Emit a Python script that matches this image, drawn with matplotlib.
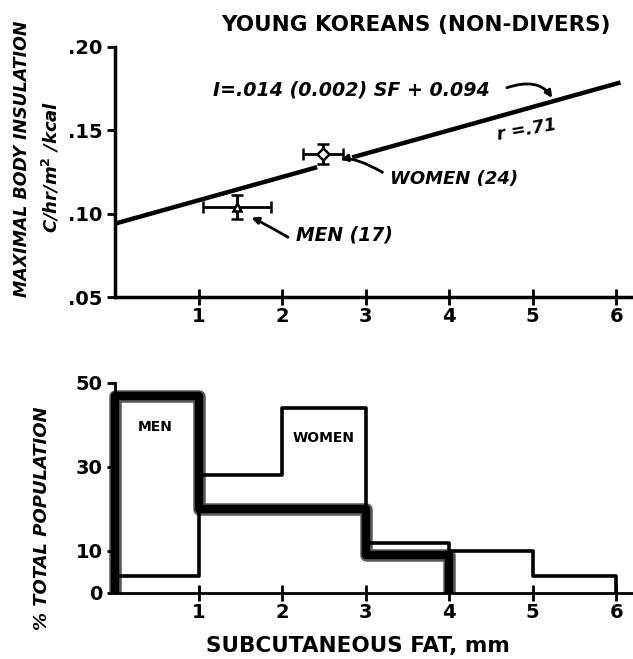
import matplotlib.pyplot as plt
import numpy as np

# regression: I = 0.014 SF + 0.094
slope = 0.014
intercept = 0.094
line_breaks = [(0.0, 2.42), (2.84, 6.05)]

# group means with error bars (SF in mm, insulation)
groups = ['WOMEN (24)', 'MEN (17)']
sf_mean = [2.49, 1.46]
sf_err = [0.24, 0.41]
ins_mean = [0.136, 0.104]
ins_err = [0.006, 0.007]
markers = ['D', '^']

# histograms of subcutaneous fat, % of total population
bin_edges_men = [0, 1, 2, 3, 4]
men_pct = [47, 20, 20, 9]
bin_edges_women = [0, 1, 2, 3, 4, 5, 6]
women_pct = [4, 28, 44, 12, 10, 4]

top_yticks = [0.05, 0.10, 0.15, 0.20]
top_ylabels = ['.05', '.10', '.15', '.20']
xticks = [1, 2, 3, 4, 5, 6]
bot_yticks = [0, 10, 30, 50]

plt.rcParams['font.family'] = ['DejaVu Sans']
fig = plt.figure(figsize=(6.33, 6.59), dpi=100)
W, H = 633, 659

def place(left, top, bottom, right=633):
    return [left / W, (H - bottom) / H, (right - left) / W, (bottom - top) / H]

ax1 = fig.add_axes(place(115, 38.6, 297))
ax2 = fig.add_axes(place(115, 378.8, 593))

for ax in (ax1, ax2):
    ax.set_facecolor('none')
    for s in ('top', 'right'):
        ax.spines[s].set_visible(False)
    ax.set_xlim(0, 6.2)
    ax.set_xticks(xticks)
    ax.set_xticklabels([str(t) for t in xticks], fontsize=14, fontweight='bold')
    ax.tick_params(axis='x', direction='inout', length=11, width=2, pad=2)
    ax.tick_params(axis='y', direction='out', length=6, width=2, pad=3)

# ---- top panel ----
ax1.set_ylim(0.05, 0.205)
ax1.spines['left'].set_bounds(0.05, 0.20)
ax1.spines['left'].set_linewidth(2.5)
ax1.spines['bottom'].set_linewidth(2.5)
ax1.set_yticks(top_yticks)
ax1.set_yticklabels(top_ylabels, fontsize=14, fontweight='bold')

for x0, x1 in line_breaks:
    xs = np.array([x0, x1])
    ax1.plot(xs, slope * xs + intercept, color='black', lw=3.2,
             solid_capstyle='butt', clip_on=False)

for xm, xe, ym, ye, mk in zip(sf_mean, sf_err, ins_mean, ins_err, markers):
    ax1.errorbar(xm, ym, xerr=xe, yerr=ye, fmt=mk, ms=6, mfc='white',
                 mec='black', mew=1.8, ecolor='black', elinewidth=2,
                 capsize=4, capthick=2)

fig.text(416 / W, 1 - 25 / H, 'YOUNG KOREANS (NON-DIVERS)',
         ha='center', va='center', fontsize=15.5, fontweight='bold')
ax1.text(1.17, 0.174, 'I=.014 (0.002) SF + 0.094', fontsize=13.7,
         fontstyle='italic', fontweight='semibold', ha='left', va='center')
ax1.annotate('', xy=(5.25, 0.168), xytext=(4.66, 0.175),
             arrowprops=dict(arrowstyle='-|>', lw=2, color='black',
                             connectionstyle='angle3,angleA=20,angleB=-60'))
ax1.text(4.55, 0.150, 'r =.71', fontsize=12.5, fontstyle='italic',
         fontweight='semibold', ha='left', va='center', rotation=10)
ax1.text(3.29, 0.121, groups[0], fontsize=13, fontweight='bold',
         fontstyle='italic', ha='left', va='center')
ax1.annotate('', xy=(2.67, 0.132), xytext=(3.23, 0.124),
             arrowprops=dict(arrowstyle='-|>', lw=2, color='black',
                             connectionstyle='angle3,angleA=-30,angleB=20'))
ax1.text(2.17, 0.087, groups[1], fontsize=13.5, fontweight='bold',
         fontstyle='italic', ha='left', va='center')
ax1.annotate('', xy=(1.6, 0.098), xytext=(2.1, 0.085),
             arrowprops=dict(arrowstyle='-|>', lw=2, color='black',
                             connectionstyle='angle3,angleA=-30,angleB=20'))

fig.text(22 / W, 1 - 159 / H, 'MAXIMAL BODY INSULATION', rotation=90,
         ha='center', va='center', fontsize=12.5, fontweight='bold',
         fontstyle='italic')
fig.text(51 / W, 1 - 167 / H, 'C/hr/m$^\\mathbf{2}$ /kcal', rotation=90,
         ha='center', va='center', fontsize=13, fontweight='bold',
         fontstyle='italic')

# ---- bottom panel ----
ax2.set_ylim(0, 51)
ax2.spines['left'].set_bounds(0, 50)
ax2.spines['left'].set_linewidth(2)
ax2.spines['bottom'].set_linewidth(2)
ax2.set_yticks(bot_yticks)
ax2.set_yticklabels([str(t) for t in bot_yticks], fontsize=14,
                    fontweight='bold')

ax2.stairs(men_pct, bin_edges_men, baseline=0, fill=False, color='0.35',
           lw=9, joinstyle='round', clip_on=False)
ax2.stairs(men_pct, bin_edges_men, baseline=0, fill=False, color='black',
           lw=6, joinstyle='round', clip_on=False)
ax2.stairs(women_pct, bin_edges_women, baseline=0, fill=False,
           color='black', lw=2.6, joinstyle='round', clip_on=False)

ax2.text(0.27, 39.5, 'MEN', fontsize=10, fontweight='bold', ha='left',
         va='center')
ax2.text(2.13, 37, 'WOMEN', fontsize=10, fontweight='bold', ha='left',
         va='center')

fig.text(358 / W, 1 - 646 / H, 'SUBCUTANEOUS FAT, mm', ha='center',
         va='center', fontsize=15.5, fontweight='bold')
fig.text(42 / W, 1 - 518 / H, '% TOTAL POPULATION', rotation=90,
         ha='center', va='center', fontsize=13, fontweight='bold',
         fontstyle='italic')

fig.savefig('out.png', dpi=100)
